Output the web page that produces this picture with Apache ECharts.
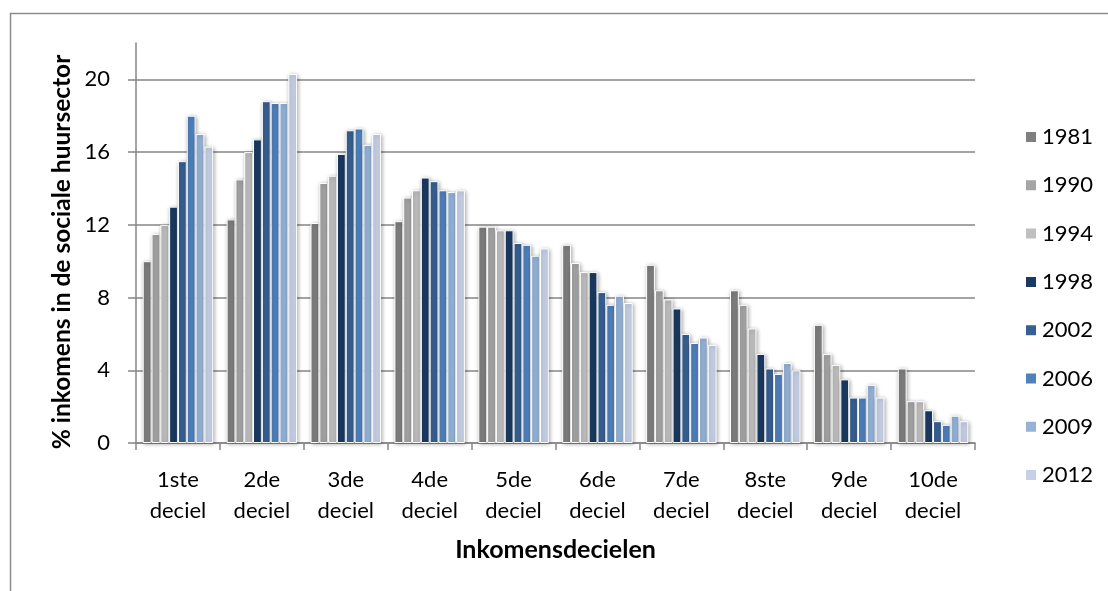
<!DOCTYPE html>
<html>
<head>
<meta charset="utf-8">
<script src="https://cdn.jsdelivr.net/npm/echarts@6/dist/echarts.min.js"></script>
<style>
  html, body { margin: 0; padding: 0; background: #ffffff; }
  #chart { width: 1108px; height: 591px; }
</style>
</head>
<body>
<div id="chart"></div>
<script>
// Income deciles (x categories)
const categories = ['1ste\ndeciel', '2de\ndeciel', '3de\ndeciel', '4de\ndeciel', '5de\ndeciel',
                    '6de\ndeciel', '7de\ndeciel', '8ste\ndeciel', '9de\ndeciel', '10de\ndeciel'];

// Share of incomes in social rental sector (%), per survey year
const years = ['1981', '1990', '1994', '1998', '2002', '2006', '2009', '2012'];
const v1981 = [10.0, 12.3, 12.1, 12.2, 11.9, 10.9, 9.8, 8.4, 6.5, 4.1];
const v1990 = [11.5, 14.5, 14.3, 13.5, 11.9, 9.9, 8.4, 7.6, 4.9, 2.3];
const v1994 = [12.0, 16.0, 14.7, 13.9, 11.7, 9.4, 7.9, 6.3, 4.3, 2.3];
const v1998 = [13.0, 16.7, 15.9, 14.6, 11.7, 9.4, 7.4, 4.9, 3.5, 1.8];
const v2002 = [15.5, 18.8, 17.2, 14.4, 11.0, 8.3, 6.0, 4.1, 2.5, 1.2];
const v2006 = [18.0, 18.7, 17.3, 13.9, 10.9, 7.6, 5.5, 3.8, 2.5, 1.0];
const v2009 = [17.0, 18.7, 16.4, 13.8, 10.3, 8.1, 5.8, 4.4, 3.2, 1.5];
const v2012 = [16.3, 20.3, 17.0, 13.9, 10.7, 7.7, 5.4, 4.0, 2.5, 1.2];
const seriesValues = [v1981, v1990, v1994, v1998, v2002, v2006, v2009, v2012];

const colors = ['#7f7f7f', '#a5a5a5', '#bfbfbf', '#1b3a61', '#376092', '#4f81bd', '#95b3d7', '#c6d0e6'];

const FONT = 'Lato, "Open Sans", sans-serif';

const chart = echarts.init(document.getElementById('chart'), null, { renderer: 'canvas' });

chart.setOption({
  animation: false,
  color: colors,
  textStyle: { fontFamily: FONT },
  grid: { left: 136, right: 133, top: 43, bottom: 148, containLabel: false },
  legend: {
    orient: 'vertical',
    left: 1019,
    top: 121,
    itemWidth: 12,
    itemHeight: 12,
    itemGap: 26.3,
    icon: 'rect',
    data: years,
    textStyle: { fontFamily: FONT, fontSize: 22, color: '#000', lineHeight: 22 }
  },
  xAxis: {
    type: 'category',
    data: categories,
    axisLine: { lineStyle: { color: '#868686', width: 1.5 } },
    axisTick: { show: true, length: 7, lineStyle: { color: '#868686', width: 1.5 }, alignWithLabel: false },
    axisLabel: { interval: 0, fontFamily: FONT, fontSize: 22, color: '#000', lineHeight: 31, margin: 21 },
    name: 'Inkomensdecielen',
    nameLocation: 'middle',
    nameGap: 94,
    nameTextStyle: { fontFamily: FONT, fontSize: 25, fontWeight: 'bold', color: '#000' }
  },
  yAxis: {
    type: 'value',
    min: 0,
    max: 22,
    interval: 4,
    axisLine: { show: true, lineStyle: { color: '#868686', width: 1.5 } },
    axisTick: { show: true, length: 8, lineStyle: { color: '#868686', width: 1.5 } },
    axisLabel: { fontFamily: FONT, fontSize: 22, color: '#000', margin: 26, showMaxLabel: false },
    splitLine: { show: true, showMaxLine: false, lineStyle: { color: '#868686', width: 1.5 } }
  },
  graphic: [
    {
      type: 'rect',
      silent: true,
      shape: { x: 10.5, y: 13.5, width: 1300, height: 800 },
      style: { fill: 'none', stroke: '#8c8c8c', lineWidth: 1.5 }
    },
    {
      type: 'text',
      silent: true,
      x: 62,
      y: 252,
      rotation: Math.PI / 2,
      style: {
        text: '% inkomens in de sociale huursector',
        fontFamily: FONT,
        fontSize: 24.5,
        fontWeight: 'bold',
        fill: '#000',
        align: 'center',
        verticalAlign: 'middle'
      }
    }
  ],
  series: years.map((y, i) => ({
    name: y,
    type: 'bar',
    data: seriesValues[i],
    barGap: '0%',
    barCategoryGap: '16%',
    itemStyle: {
      borderColor: '#ffffff',
      borderWidth: 1,
      shadowBlur: 4,
      shadowColor: 'rgba(0,0,0,0.35)',
      shadowOffsetX: 1,
      shadowOffsetY: 1
    }
  }))
});
</script>
</body>
</html>
